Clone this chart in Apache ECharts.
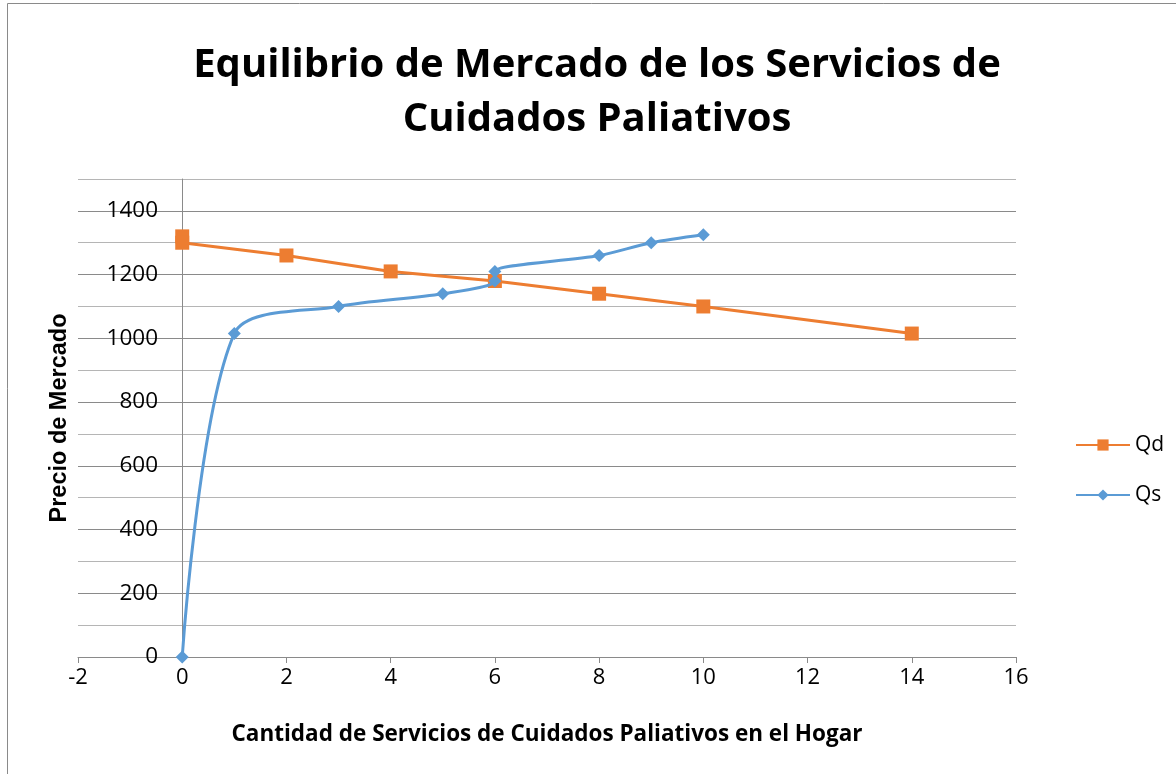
<!DOCTYPE html>
<html>
<head>
<meta charset="utf-8">
<script src="https://cdn.jsdelivr.net/npm/echarts@6/dist/echarts.min.js"></script>
<style>
  html, body { margin: 0; padding: 0; background: #fff; }
  #chart { width: 1176px; height: 774px; }
</style>
</head>
<body>
<div id="chart"></div>
<script>
// Qd (demanda) y Qs (oferta): [cantidad, precio]
var qdPoints = [[0, 1320], [0, 1300], [2, 1260], [4, 1210], [6, 1180], [8, 1140], [10, 1100], [14, 1015]];
var qsPoints = [[0, 0], [1, 1015], [3, 1100], [5, 1140], [6, 1180], [6, 1210], [8, 1260], [9, 1300], [10, 1325]];
var seriesNames = ["Qd", "Qs"];
var titleLines = ["Equilibrio de Mercado de los Servicios de", "Cuidados Paliativos"];
var xName = "Cantidad de Servicios de Cuidados Paliativos en el Hogar";
var yName = "Precio de Mercado";

var font = "'Open Sans', sans-serif";
var chart = echarts.init(document.getElementById("chart"));

var option = {
    animation: false,
    color: ["#ED7D31", "#5B9BD5"],
    grid: { left: 78, right: 160, top: 179, bottom: 117, containLabel: false },
    graphic: [
        { type: "line", shape: { x1: 7.5, y1: 3.5, x2: 1176, y2: 3.5 }, style: { stroke: "#8a8a8a", lineWidth: 1 } },
        { type: "line", shape: { x1: 7.5, y1: 3.5, x2: 7.5, y2: 774 }, style: { stroke: "#8a8a8a", lineWidth: 1 } },
        { type: "text", x: 597, y: 66, style: { text: titleLines[0], font: "bold 40px " + font, fill: "#000", align: "center", verticalAlign: "middle" } },
        { type: "text", x: 597, y: 120, style: { text: titleLines[1], font: "bold 40px " + font, fill: "#000", align: "center", verticalAlign: "middle" } },
        { type: "text", x: 60, y: 418, rotation: Math.PI / 2, style: { text: yName, font: "bold 23.5px 'Liberation Sans', Arial, sans-serif", fill: "#000", align: "center", verticalAlign: "middle" } }
    ],
    legend: {
        orient: "vertical",
        left: 1070,
        top: 428,
        itemWidth: 54,
        itemHeight: 14,
        itemGap: 26,
        textStyle: { fontSize: 21, color: "#000", fontFamily: font, lineHeight: 24 },
        data: seriesNames
    },
    xAxis: {
        type: "value",
        min: -2,
        max: 16,
        interval: 2,
        name: xName,
        nameLocation: "middle",
        nameGap: 66,
        nameTextStyle: { fontSize: 22.5, fontWeight: "bold", color: "#000", fontFamily: font },
        axisLine: { onZero: false, lineStyle: { color: "#8a8a8a", width: 1 } },
        axisTick: { show: true, length: 6, lineStyle: { color: "#8a8a8a" } },
        axisLabel: { fontSize: 22, color: "#000", margin: 10, fontFamily: font },
        splitLine: { show: false }
    },
    yAxis: {
        type: "value",
        min: 0,
        max: 1500,
        interval: 100,
        offset: -104,
        axisLine: { show: true, onZero: false, lineStyle: { color: "#8a8a8a", width: 1 } },
        axisTick: { show: false },
        axisLabel: {
            fontSize: 22.5,
            color: "#000",
            margin: 24,
            fontFamily: font,
            formatter: function (v) { return v % 200 === 0 ? String(v) : ""; }
        },
        splitLine: { show: true, lineStyle: { color: ["#8a8a8a", "#b5b5b5"], width: 1 } }
    },
    series: [
        {
            name: seriesNames[0],
            type: "line",
            data: qdPoints,
            symbol: "rect",
            symbolSize: 14,
            lineStyle: { width: 3 },
            z: 2
        },
        {
            name: seriesNames[1],
            type: "line",
            data: qsPoints,
            smooth: 0.3,
            symbol: "diamond",
            symbolSize: 13,
            lineStyle: { width: 3 },
            z: 3
        }
    ]
};
chart.setOption(option);
</script>
</body>
</html>
